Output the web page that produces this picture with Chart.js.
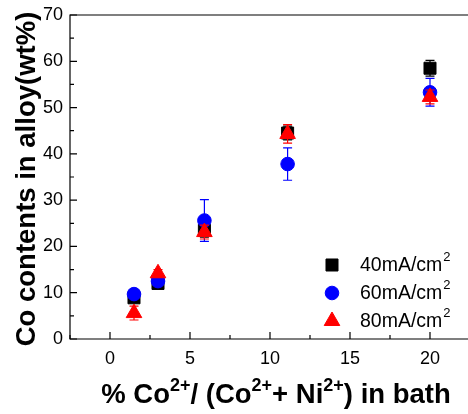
<!DOCTYPE html>
<html><head><meta charset="utf-8">
<script src="https://cdn.jsdelivr.net/npm/chart.js@4/dist/chart.umd.min.js"></script>
<style>
html,body{margin:0;padding:0;background:#fff;overflow:hidden;width:468px;height:414px}
#wrap{width:468px;height:414px;position:relative;overflow:hidden}
canvas{display:block}
</style></head>
<body><div id="wrap"><canvas id="c" width="468" height="414" style="width:468px;height:414px"></canvas></div>
<script>
const bathPct = [1.5, 3, 5.9, 11.1, 20];
const co40 = [8.9, 12.0, 23.5, 44.5, 58.5];
const err40 = [0.5, 0.6, 1.5, 1.5, 1.7];
const co60 = [9.7, 12.5, 25.6, 37.8, 53.3];
const err60 = [0.6, 0.6, 4.5, 3.5, 3.0];
const co80 = [5.6, 14.2, 23.1, 44.3, 52.3];
const err80 = [1.5, 0.8, 1.5, 2.0, 1.5];
const seriesLabels = ['40mA/cm', '60mA/cm', '80mA/cm'];
const xTicks = [0, 5, 10, 15, 20];
const yTicks = [0, 10, 20, 30, 40, 50, 60, 70];

const FONT = '"Liberation Sans", Arial, sans-serif';
const X_MIN = -2.5;
const X_PX_PER_UNIT = 16;

function pts(ys) { return bathPct.map((x, i) => ({x: x, y: ys[i]})); }

const errorBars = {
  id: 'errorBars',
  beforeDatasetDraw(chart, args) {
    const ds = chart.data.datasets[args.index];
    if (!ds.errors) return;
    const xs = chart.scales.x, ys = chart.scales.y, ctx = chart.ctx;
    ctx.save();
    ctx.strokeStyle = ds.borderColor;
    ctx.lineWidth = 1.2;
    ds.data.forEach((p, i) => {
      const e = ds.errors[i];
      const px = xs.getPixelForValue(p.x);
      const yt = ys.getPixelForValue(p.y + e), yb = ys.getPixelForValue(p.y - e);
      ctx.beginPath();
      ctx.moveTo(px, yt); ctx.lineTo(px, yb);
      ctx.moveTo(px - 4.5, yt); ctx.lineTo(px + 4.5, yt);
      ctx.moveTo(px - 4.5, yb); ctx.lineTo(px + 4.5, yb);
      ctx.stroke();
    });
    ctx.restore();
  }
};

const frame = {
  id: 'frame',
  afterDraw(chart) {
    const ctx = chart.ctx, a = chart.chartArea, xs = chart.scales.x, ys = chart.scales.y;
    const edge = chart.width;
    ctx.save();
    ctx.strokeStyle = '#000';
    ctx.lineWidth = 1.2;
    ctx.beginPath();
    ctx.moveTo(edge, a.top); ctx.lineTo(a.left, a.top);
    ctx.lineTo(a.left, a.bottom); ctx.lineTo(edge, a.bottom);
    ctx.stroke();
    // inward ticks
    ctx.beginPath();
    for (let v = 0; v <= 70; v += 5) {
      const py = ys.getPixelForValue(v);
      const len = (v % 10 === 0) ? 7 : 4;
      ctx.moveTo(a.left, py); ctx.lineTo(a.left + len, py);
    }
    for (let v = -2.5; v <= 22.5; v += 2.5) {
      const px = xs.getPixelForValue(v);
      if (px > edge) continue;
      const len = (Math.abs(v % 5) < 1e-9) ? 7 : 4;
      ctx.moveTo(px, a.bottom); ctx.lineTo(px, a.bottom - len);
    }
    ctx.stroke();

    // y title
    ctx.fillStyle = '#000';
    ctx.save();
    ctx.translate(35, 179);
    ctx.rotate(-Math.PI / 2);
    ctx.font = 'bold 27.5px ' + FONT;
    ctx.textAlign = 'center';
    ctx.textBaseline = 'alphabetic';
    ctx.fillText('Co contents in alloy(wt%)', 0, 0);
    ctx.restore();

    // x title with superscripts
    const parts = [['% Co', 0], ['2+', 1], ['/ (Co', 0], ['2+', 1], ['+ Ni', 0], ['2+', 1], [') in bath', 0]];
    const big = 'bold 27.5px ' + FONT, small = 'bold 18px ' + FONT;
    let total = 0;
    parts.forEach(p => { ctx.font = p[1] ? small : big; total += ctx.measureText(p[0]).width; });
    let cx = 276 - total / 2;
    const base = 403;
    ctx.textAlign = 'left';
    ctx.textBaseline = 'alphabetic';
    parts.forEach(p => {
      ctx.font = p[1] ? small : big;
      ctx.fillText(p[0], cx, p[1] ? base - 12 : base);
      cx += ctx.measureText(p[0]).width;
    });

    // legend
    const lx = 332, ly0 = 265, dy = 28;
    chart.data.datasets.forEach((ds, i) => {
      const y = ly0 + i * dy;
      ctx.fillStyle = ds.backgroundColor;
      ctx.strokeStyle = ds.backgroundColor;
      ctx.lineWidth = 1;
      Chart.helpers.drawPoint(ctx, {pointStyle: ds.pointStyle, radius: ds.pointRadius, borderWidth: 1}, lx, y);
      ctx.fillStyle = '#000';
      ctx.font = '19.5px ' + FONT;
      ctx.textAlign = 'left';
      ctx.textBaseline = 'middle';
      ctx.fillText(ds.label, 360, y + 1);
      const w = ctx.measureText(ds.label).width;
      ctx.font = '13px ' + FONT;
      ctx.fillText('2', 360 + w + 1, y - 8);
    });
    ctx.restore();
  }
};

const chart = new Chart(document.getElementById('c'), {
  type: 'scatter',
  data: {
    datasets: [
      {label: seriesLabels[0], data: pts(co40), errors: err40, pointStyle: 'rect', pointRadius: 8.5,
        backgroundColor: '#000', borderColor: '#000', borderWidth: 1, order: 3},
      {label: seriesLabels[1], data: pts(co60), errors: err60, pointStyle: 'circle', pointRadius: 6.8,
        backgroundColor: '#0000ff', borderColor: '#0000ff', borderWidth: 1, order: 2},
      {label: seriesLabels[2], data: pts(co80), errors: err80, pointStyle: 'triangle', pointRadius: 9,
        backgroundColor: '#ff0000', borderColor: '#ff0000', borderWidth: 1, order: 1}
    ]
  },
  options: {
    responsive: false,
    animation: false,
    devicePixelRatio: 1,
    layout: {padding: {top: 15, right: 0, left: 0, bottom: 0}},
    plugins: {legend: {display: false}, tooltip: {enabled: false}},
    scales: {
      x: {
        type: 'linear', min: X_MIN, max: 22.5,
        grid: {display: false, drawTicks: false}, border: {display: false},
        afterBuildTicks(s) { s.ticks = xTicks.map(v => ({value: v})); },
        afterFit(s) { s.height = 75; s.paddingLeft = 0; s.paddingRight = 0; },
        ticks: {color: '#000', font: {family: FONT, size: 18}, padding: 9, maxRotation: 0}
      },
      y: {
        type: 'linear', min: 0, max: 70,
        grid: {display: false, drawTicks: false}, border: {display: false},
        afterBuildTicks(s) { s.ticks = yTicks.map(v => ({value: v})); },
        afterFit(s) { s.width = 70; s.paddingTop = 0; s.paddingBottom = 0; },
        ticks: {color: '#000', font: {family: FONT, size: 18}, padding: 7}
      }
    }
  },
  plugins: [errorBars, frame]
});
// keep the reference's 16 px per x unit, whatever width the layout gave the plot area
const area = chart.chartArea;
chart.options.scales.x.max = X_MIN + (area.right - area.left) / X_PX_PER_UNIT;
chart.update();
</script>
</body></html>
